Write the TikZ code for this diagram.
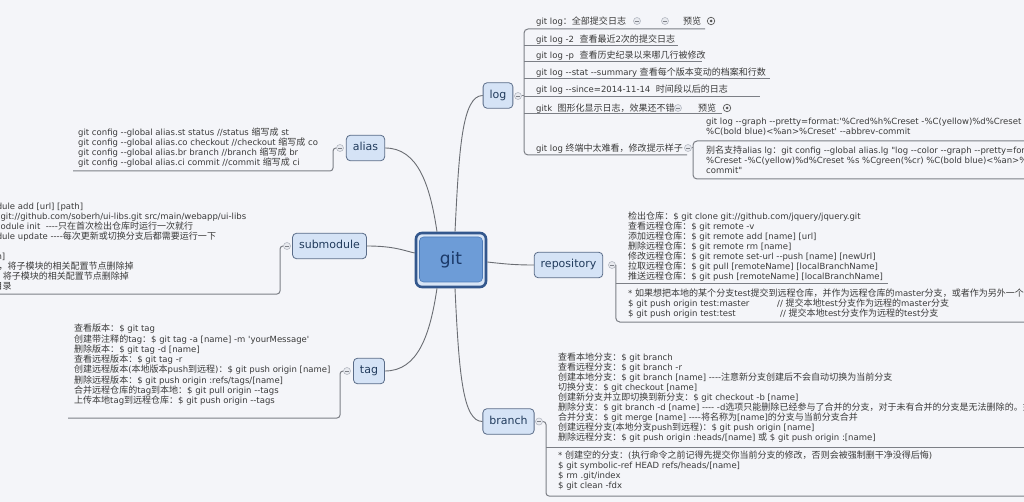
\documentclass[tikz,border=0pt]{standalone}
\usepackage{fontspec}
\newfontfamily\latinfont{DejaVu Sans}
\newfontfamily\cjkfont{Noto Sans CJK SC}[Scale=1.06]

% Automatic switching between the Latin and the CJK font
\newcount\cjkcode
\newcommand\setclassrange[3]{%
  \cjkcode=#1\relax
  \loop
    \XeTeXcharclass\cjkcode=#3\relax
    \advance\cjkcode by 1\relax
  \ifnum\cjkcode<#2\relax
  \repeat}
\setclassrange{"0021}{"007F}{0}
\setclassrange{"2000}{"2070}{0}
\setclassrange{"3000}{"3040}{1}
\setclassrange{"4E00}{"A000}{1}
\setclassrange{"FF00}{"FFF0}{1}
\XeTeXinterchartoks 0 1 = {\cjkfont}
\XeTeXinterchartoks 4095 1 = {\cjkfont}
\XeTeXinterchartoks 1 0 = {\latinfont}
\XeTeXinterchartoks 1 4095 = {\latinfont}
\XeTeXinterchartokenstate=1

\definecolor{bgcol}{HTML}{F4F5F9}
\definecolor{topicfill}{HTML}{D5E3F6}
\definecolor{topicline}{HTML}{5A6C88}
\definecolor{topictext}{HTML}{213B5C}
\definecolor{notetext}{HTML}{3A3A3A}
\definecolor{ruleline}{HTML}{7C7F86}
\definecolor{connline}{HTML}{6A6D73}
\definecolor{foldline}{HTML}{B4B8C2}
\definecolor{foldfill}{HTML}{E8EAEF}
\definecolor{viewline}{HTML}{555555}
\definecolor{gitrim}{HTML}{33578D}
\definecolor{gitgap}{HTML}{D8E5F6}
\definecolor{gitfill}{HTML}{6D9CD7}
\definecolor{gitedge}{HTML}{4D7BB8}
\definecolor{gittext}{HTML}{1B3968}

\begin{document}
\begin{tikzpicture}[x=1pt,y=-1pt,
  topic/.style={draw=topicline, fill=topicfill, rounded corners=4pt, line width=0.8pt,
    text=topictext, font=\latinfont\fontsize{11}{13}\selectfont,
    inner xsep=6.5pt, inner ysep=0pt, minimum height=25.5pt, text height=8pt, text depth=2.3pt},
  notes/.style={anchor=north west, align=left, inner sep=0pt, text=notetext,
    font=\latinfont\fontsize{8.5}{10}\selectfont,
    execute at begin node={\rule{0pt}{8pt}}},
  foldmark/.style={circle, draw=foldline, fill=foldfill, line width=0.6pt, minimum size=7pt, inner sep=0pt,
    path picture={\draw[foldline!70!black, line width=0.7pt]
      ([xshift=1.7pt]path picture bounding box.west) -- ([xshift=-1.7pt]path picture bounding box.east);}},
  viewmark/.style={circle, draw=viewline, line width=0.7pt, minimum size=7.5pt, inner sep=0pt,
    path picture={\fill[viewline] (path picture bounding box.center) circle[radius=1.5pt];}},
  conn/.style={draw=connline, line width=0.9pt},
  underl/.style={draw=ruleline, line width=1pt},
]
\useasboundingbox (0,0) rectangle (1024,502);
\fill[bgcol] (0,0) rectangle (1024,502);
\clip (0,0) rectangle (1024,502);

% central topic
\node[draw=gitrim, fill=gitgap, line width=2.6pt, rounded corners=6pt,
      minimum width=70pt, minimum height=54pt, inner sep=0pt] (gitouter) at (451,260) {};
\node[draw=gitedge, fill=gitfill, line width=0.6pt, rounded corners=4pt,
      minimum width=63pt, minimum height=45pt, inner sep=0pt, text=gittext,
      font=\latinfont\fontsize{17}{20}\selectfont] (git) at (451,259.5) {git};

% main branches
\node[topic] (log) at (498,95.5) {log};
\node[topic] (alias) at (365.5,148) {alias};
\node[topic] (submodule) at (329.5,246) {submodule};
\node[topic] (repository) at (568.5,265) {repository};
\node[topic] (tag) at (369,371) {tag};
\node[topic] (branch) at (508.5,421.5) {branch};

\draw[conn] ([xshift=4pt]gitouter.north) .. controls (459,150) and (462,95.5) .. (log.west);
\draw[conn] ([xshift=-14pt]gitouter.north) .. controls (430,185) and (418,148) .. (alias.east);
\draw[conn] (submodule.east) .. controls (395,246) and (405,251) .. ([yshift=7pt]gitouter.west);
\draw[conn] ([yshift=-2pt]gitouter.east) .. controls (505,264) and (515,265) .. (repository.west);
\draw[conn] ([xshift=-14pt]gitouter.south) .. controls (430,335) and (418,371) .. (tag.east);
\draw[conn] ([xshift=4pt]gitouter.south) .. controls (459,375) and (463,421.5) .. (branch.west);

% ---- log ----
\node[notes] (logA) at (536,16) {git log：全部提交日志};
\node[notes] (logB) at (536,34) {git log -2~~查看最近2次的提交日志};
\node[notes] (logC) at (536,50) {git log -p~~查看历史纪录以来哪几行被修改};
\node[notes] (logD) at (536,67.5) {git log --stat --summary 查看每个版本变动的档案和行数};
\node[notes] (logE) at (536,84) {git log --since=2014-11-14~~时间段以后的日志};
\node[notes] (logF) at (536,103) {gitk~~图形化显示日志，效果还不错};
\node[notes] (logG) at (536,143) {git log 终端中太难看，修改提示样子};
\node[notes] (previewA) at (683,16) {预览};
\node[notes] (previewF) at (698,103) {预览};

\node[notes] (prettyA) at (706,118) {git log --graph --pretty=format:'\%Cred\%h\%Creset -\%C(yellow)\%d\%Creset \%s \%Cgreen(\%cr)\\
\%C(bold blue)<\%an>\%Creset' --abbrev-commit};
\node[notes, font=\latinfont\fontsize{8.5}{9.7}\selectfont] (prettyB) at (706,146) {别名支持alias lg：git config --global alias.lg "log --color --graph --pretty=format:'\%Cred\%h\\
\%Creset -\%C(yellow)\%d\%Creset \%s \%Cgreen(\%cr) \%C(bold blue)<\%an>\%Creset' --abbrev-\\
commit"};

\draw[underl, rounded corners=4pt] (705,29) -| (524,155) -- (687,155);
\draw[underl] (524,46) -- (678,46);
\draw[underl] (524,62) -- (702,62);
\draw[underl] (524,79) -- (770,79);
\draw[underl] (524,97) -- (760,97);
\draw[underl] (524,114) -- (722,114);
\draw[underl, rounded corners=4pt] (1030,141) -| (693,179) -- (1030,179);

\node[foldmark] (logfold) at (518,96) {};
\node[foldmark] (fold1a) at (637,21) {};
\node[foldmark] (fold1b) at (665,21) {};
\node[viewmark] (view1) at (711,21) {};
\node[foldmark] (fold6) at (678,108) {};
\node[viewmark] (view6) at (727,108) {};
\node[foldmark] (fold7) at (688,148) {};
\draw[underl] (logfold.east) -- (524,96);
\draw[underl] (fold7.east) -- (693,148);

% ---- alias ----
\node[notes] (aliasnotes) at (78,128) {git config --global alias.st status //status 缩写成 st\\
git config --global alias.co checkout //checkout 缩写成 co\\
git config --global alias.br branch //branch 缩写成 br\\
git config --global alias.ci commit //commit 缩写成 ci};
\node[foldmark] (aliasfold) at (340,148) {};
\draw[underl, rounded corners=3pt] (73,171) -| (333,148) -- (aliasfold.west);

% ---- submodule ----
\node[notes] (subnotes) at (-108,202) {添加子模块：\$ git submodule add [url] [path]\\
如：\$ git submodule add git://github.com/soberh/ui-libs.git src/main/webapp/ui-libs\\
初始化子模块：\$ git submodule init~~----只在首次检出仓库时运行一次就行\\
更新子模块：\$ git submodule update ----每次更新或切换分支后都需要运行一下\\
删除子模块：（分4步走哦）\\
1) \$ git rm --cached [path]\\
2) 编辑“.gitmodules”文件，将子模块的相关配置节点删除掉\\
3) 编辑“ .git/config”文件，将子模块的相关配置节点删除掉\\
4) 手动删除子模块残留的目录};
\node[foldmark] (subfold) at (287,246) {};
\draw[underl, rounded corners=3pt] (-5,294) -| (280,246) -- (subfold.west);

% ---- repository ----
\node[notes] (reponotes) at (628,212) {检出仓库：\$ git clone git://github.com/jquery/jquery.git\\
查看远程仓库：\$ git remote -v\\
添加远程仓库：\$ git remote add [name] [url]\\
删除远程仓库：\$ git remote rm [name]\\
修改远程仓库：\$ git remote set-url --push [name] [newUrl]\\
拉取远程仓库：\$ git pull [remoteName] [localBranchName]\\
推送远程仓库：\$ git push [remoteName] [localBranchName]};
\node[notes] (repoextra) at (628,289) {* 如果想把本地的某个分支test提交到远程仓库，并作为远程仓库的master分支，或者作为另外一个名叫test的分支，那么可以这么做。\\
\makebox[149pt][l]{\$ git push origin test:master}// 提交本地test分支作为远程的master分支\\
\makebox[152pt][l]{\$ git push origin test:test}// 提交本地test分支作为远程的test分支};
\node[foldmark] (repofold) at (612,265) {};
\draw[underl, rounded corners=4pt] (repofold.east) |- (1030,322);
\draw[underl] (615.5,284) -- (888,284);

% ---- tag ----
\node[notes, font=\latinfont\fontsize{8.5}{10.3}\selectfont] (tagnotes) at (74,324) {查看版本：\$ git tag\\
创建带注释的tag：\$ git tag -a [name] -m 'yourMessage'\\
删除版本：\$ git tag -d [name]\\
查看远程版本：\$ git tag -r\\
创建远程版本(本地版本push到远程)：\$ git push origin [name]\\
删除远程版本：\$ git push origin :refs/tags/[name]\\
合并远程仓库的tag到本地：\$ git pull origin --tags\\
上传本地tag到远程仓库：\$ git push origin --tags};
\node[foldmark] (tagfold) at (347,371) {};
\draw[underl, rounded corners=3pt] (68,418) -| (340,371) -- (tagfold.west);

% ---- branch ----
\node[notes] (branchnotes) at (558,353) {查看本地分支：\$ git branch\\
查看远程分支：\$ git branch -r\\
创建本地分支：\$ git branch [name] ----注意新分支创建后不会自动切换为当前分支\\
切换分支：\$ git checkout [name]\\
创建新分支并立即切换到新分支：\$ git checkout -b [name]\\
删除分支：\$ git branch -d [name] ---- -d选项只能删除已经参与了合并的分支，对于未有合并的分支是无法删除的。如果想强制删除一个分支，可以使用-D选项\\
合并分支：\$ git merge [name] ----将名称为[name]的分支与当前分支合并\\
创建远程分支(本地分支push到远程)：\$ git push origin [name]\\
删除远程分支：\$ git push origin :heads/[name] 或 \$ git push origin :[name]};
\node[notes] (branchextra) at (558,451) {* 创建空的分支：(执行命令之前记得先提交你当前分支的修改，否则会被强制删干净没得后悔)\\
\$ git symbolic-ref HEAD refs/heads/[name]\\
\$ rm .git/index\\
\$ git clean -fdx};
\node[foldmark] (branchfold) at (539,421.5) {};
\draw[underl, rounded corners=3pt] (branchfold.east) -- (546,421.5) |- (1030,496);
\draw[underl] (546,447) -- (1030,447);
\end{tikzpicture}
\end{document}
